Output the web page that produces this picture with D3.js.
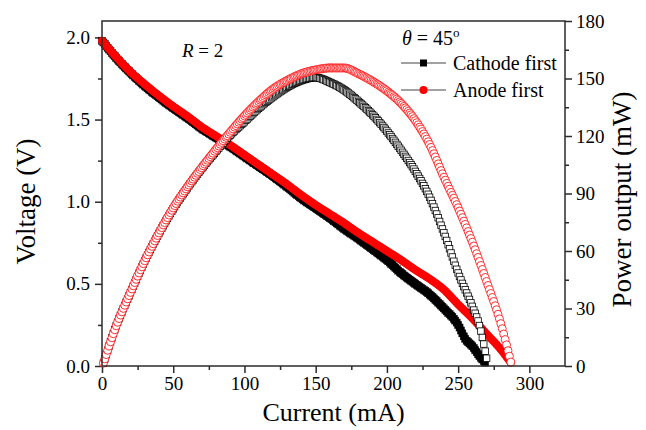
<!DOCTYPE html>
<meta charset="utf-8">
<script src="https://d3js.org/d3.v7.min.js"></script>
<style>
  body { margin: 0; background: #fff; }
  text { font-family: "Liberation Serif", "Times New Roman", serif; fill: #000; }
</style>
<div id="my_dataviz"></div>
<script>

// ---- values ----
// voltage, cathode first (black)
var cathodeI_V = [0, 10, 20, 30, 40, 50, 60, 70, 80, 90, 100, 110, 120, 130, 140, 150, 160, 170, 180, 190, 200, 210, 220, 230, 240, 250, 255, 260, 265, 269];
var cathodeV   = [1.98, 1.875, 1.785, 1.705, 1.635, 1.57, 1.51, 1.445, 1.39, 1.335, 1.275, 1.215, 1.155, 1.09, 1.02, 0.96, 0.90, 0.835, 0.775, 0.71, 0.645, 0.565, 0.50, 0.435, 0.35, 0.25, 0.165, 0.12, 0.06, 0.02];
// voltage, anode first (red)
var anodeI_V = [0, 10, 20, 30, 40, 50, 60, 70, 80, 90, 100, 110, 120, 130, 140, 150, 160, 170, 180, 190, 200, 210, 220, 230, 240, 250, 260, 270, 280, 287];
var anodeV   = [1.98, 1.88, 1.79, 1.715, 1.645, 1.58, 1.52, 1.455, 1.40, 1.345, 1.285, 1.225, 1.165, 1.105, 1.04, 0.98, 0.925, 0.87, 0.81, 0.755, 0.70, 0.645, 0.585, 0.53, 0.465, 0.375, 0.29, 0.195, 0.10, 0.02];
// power, cathode first (black open squares)
var cathodeI_P = [1, 10, 20, 30, 40, 50, 60, 70, 80, 90, 100, 110, 120, 130, 140, 150, 160, 170, 180, 190, 200, 210, 220, 230, 240, 250, 260, 265, 270.5];
var cathodeP   = [1.5, 21, 38.3, 54.8, 69.2, 82, 93, 103, 112, 120.5, 127.5, 134.5, 140.5, 145.5, 149, 150.5, 148, 144, 138, 131, 122.5, 112.5, 101.5, 88, 69.5, 48.5, 31, 21, 2];
// power, anode first (red open circles)
var anodeI_P = [1, 10, 20, 30, 40, 50, 60, 70, 80, 90, 100, 110, 120, 130, 140, 150, 160, 170, 180, 190, 200, 210, 220, 230, 240, 250, 260, 270, 280, 287];
var anodeP   = [1.5, 21, 38.5, 55, 69.5, 82.5, 93.5, 103.5, 113, 122, 130.5, 138, 144.5, 149, 152.5, 154.5, 155.5, 155.5, 152.5, 148.5, 143.5, 137, 128, 115.5, 98.5, 82.5, 64.5, 44, 22, 2];

var xTicks = [0, 50, 100, 150, 200, 250, 300];
var vTicks = [0, 0.5, 1.0, 1.5, 2.0];
var pTicks = [0, 30, 60, 90, 120, 150, 180];

// set the dimensions and margins of the graph
var margin = { top: 21, right: 81, bottom: 64, left: 102 },
    width = 646 - margin.left - margin.right,
    height = 430 - margin.top - margin.bottom;

var svg = d3.select("#my_dataviz")
    .append("svg")
    .attr("width", 646)
    .attr("height", 430)
    .append("g")
    .attr("transform", "translate(" + margin.left + "," + margin.top + ")");

var x = d3.scaleLinear().domain([0, 325]).range([0, width]);
var yV = d3.scaleLinear().domain([0, 2.1]).range([height, 0]);
var yP = d3.scaleLinear().domain([0, 180]).range([height, 0]);

var axisColor = "#2b2b2b";

function styleAxis(g) {
    g.select(".domain").remove();
    g.selectAll("line").attr("stroke", axisColor).attr("stroke-width", 1.5);
    g.selectAll("text").style("font-size", "19px").style("font-family", "Liberation Serif");
}

// minor ticks
svg.append("g")
    .attr("transform", "translate(0," + height + ")")
    .call(d3.axisBottom(x).tickValues(d3.range(25, 325, 50)).tickSize(4).tickFormat(""))
    .call(styleAxis);
svg.append("g")
    .call(d3.axisLeft(yV).tickValues([0.25, 0.75, 1.25, 1.75]).tickSize(4).tickFormat(""))
    .call(styleAxis);
svg.append("g")
    .attr("transform", "translate(" + width + ",0)")
    .call(d3.axisRight(yP).tickValues(d3.range(15, 180, 30)).tickSize(4).tickFormat(""))
    .call(styleAxis);

// major ticks
svg.append("g")
    .attr("transform", "translate(0," + height + ")")
    .call(d3.axisBottom(x).tickValues(xTicks).tickSize(7).tickPadding(4).tickFormat(d3.format("d")))
    .call(styleAxis);
svg.append("g")
    .call(d3.axisLeft(yV).tickValues(vTicks).tickSize(7).tickPadding(5).tickFormat(d3.format(".1f")))
    .call(styleAxis);
svg.append("g")
    .attr("transform", "translate(" + width + ",0)")
    .call(d3.axisRight(yP).tickValues(pTicks).tickSize(7).tickPadding(4).tickFormat(d3.format("d")))
    .call(styleAxis);

// place markers every 1 mA along the drawn curve
function drawSeries(I, vals, yScale, shape, opts) {
    var pts = I.map(function (d, i) { return [d, vals[i]]; });
    var line = d3.line()
        .x(function (d) { return x(d[0]); })
        .y(function (d) { return yScale(d[1]); })
        .curve(d3.curveMonotoneX);
    var path = svg.append("path")
        .attr("d", line(pts))
        .attr("fill", "none")
        .attr("stroke", "none");
    var node = path.node();
    var total = node.getTotalLength();
    var table = [];
    for (var l = 0; l <= total; l += 0.25) table.push(node.getPointAtLength(l));
    var marks = [];
    var j = 0;
    for (var c = I[0]; c <= I[I.length - 1] + 1e-6; c += 1) {
        var px = x(c);
        while (j < table.length - 1 && table[j + 1].x <= px) j++;
        marks.push([table[j].x, table[j].y]);
    }
    var g = svg.append("g");
    if (shape === "square") {
        g.selectAll("rect").data(marks).enter().append("rect")
            .attr("x", function (d) { return d[0] - opts.size / 2; })
            .attr("y", function (d) { return d[1] - opts.size / 2; })
            .attr("width", opts.size).attr("height", opts.size)
            .attr("fill", opts.fill).attr("stroke", opts.stroke).attr("stroke-width", opts.sw);
    } else {
        g.selectAll("circle").data(marks).enter().append("circle")
            .attr("cx", function (d) { return d[0]; })
            .attr("cy", function (d) { return d[1]; })
            .attr("r", opts.size / 2)
            .attr("fill", opts.fill).attr("stroke", opts.stroke).attr("stroke-width", opts.sw);
    }
}

drawSeries(cathodeI_V, cathodeV, yV, "square", { size: 7, fill: "#000", stroke: "#000", sw: 0.5 });
drawSeries(anodeI_V, anodeV, yV, "circle", { size: 7.5, fill: "#ff0000", stroke: "#ff0000", sw: 0.5 });
drawSeries(cathodeI_P, cathodeP, yP, "square", { size: 6.5, fill: "#fff", stroke: "#000", sw: 0.8 });
drawSeries(anodeI_P, anodeP, yP, "circle", { size: 8, fill: "#fff", stroke: "#ff0000", sw: 0.8 });

// frame
svg.append("rect")
    .attr("width", width).attr("height", height)
    .attr("fill", "none").attr("stroke", axisColor).attr("stroke-width", 1.5);

// axis titles
svg.append("text")
    .attr("x", width / 2).attr("y", height + 55)
    .attr("text-anchor", "middle").style("font-size", "26px")
    .text("Current (mA)");
svg.append("text")
    .attr("transform", "translate(" + (-67) + "," + (height / 2 + 8) + ") rotate(-90)")
    .attr("text-anchor", "middle").style("font-size", "27px")
    .text("Voltage (V)");
svg.append("text")
    .attr("transform", "translate(" + (width + 66) + "," + (height / 2 + 6) + ") rotate(-90)")
    .attr("text-anchor", "middle").style("font-size", "27px")
    .text("Power output (mW)");

// annotations
var r = svg.append("text").attr("x", 80).attr("y", 36).style("font-size", "19px");
r.append("tspan").style("font-style", "italic").text("R");
r.append("tspan").text(" = 2");

var th = svg.append("text").attr("x", 300).attr("y", 24).style("font-size", "20px");
th.append("tspan").style("font-style", "italic").text("θ");
th.append("tspan").text(" = 45");
th.append("tspan").attr("dy", -8).style("font-size", "13px").text("o");

// legend
var legend = [
    { label: "Cathode first", shape: "square", color: "#000", y: 42 },
    { label: "Anode first", shape: "circle", color: "#ff0000", y: 69 }
];
legend.forEach(function (d) {
    var g = svg.append("g").attr("transform", "translate(299," + d.y + ")");
    g.append("line").attr("x1", 0).attr("x2", 45).attr("stroke", "#444").attr("stroke-width", 1);
    if (d.shape === "square") {
        g.append("rect").attr("x", 19).attr("y", -3.5).attr("width", 7).attr("height", 7).attr("fill", d.color);
    } else {
        g.append("circle").attr("cx", 22.5).attr("r", 4).attr("fill", d.color);
    }
    g.append("text").attr("x", 52).attr("y", 7).style("font-size", "20px").text(d.label);
});

</script>
